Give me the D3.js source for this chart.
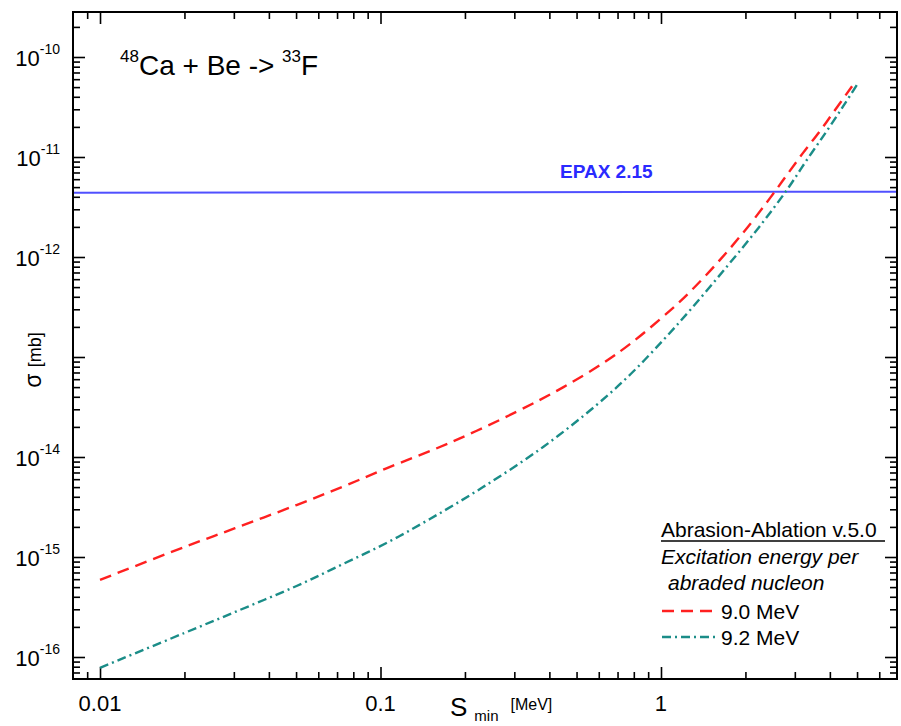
<!DOCTYPE html>
<html>
<head>
<meta charset="utf-8">
<title>Abrasion-Ablation 48Ca + Be -> 33F</title>
<script src="https://d3js.org/d3.v7.min.js"></script>
<style type="text/css">
body { margin: 0; background: #fff; }
text { font-family: "Liberation Sans", Arial, sans-serif; fill: #000; }
</style>
</head>
<body>
<div id="chart"></div>
<script>
// S_min [MeV] and sigma [mb]
var sMin90 = [0.01, 0.02, 0.0303, 0.0502, 0.0734, 0.105, 0.177, 0.306, 0.449, 0.624, 0.781, 1.084, 1.28, 1.62, 2.04, 2.45, 2.81, 3.21, 3.69, 4.10, 4.80];
var sig90  = [5.9e-16, 1.26e-15, 1.94e-15, 3.31e-15, 5.05e-15, 7.7e-15, 1.39e-14, 2.84e-14, 5.0e-14, 8.75e-14, 1.37e-13, 2.96e-13, 4.6e-13, 9.3e-13, 2.0e-12, 3.9e-12, 6.6e-12, 1.10e-11, 1.82e-11, 2.75e-11, 5.1e-11];

var sMin92 = [0.01, 0.02, 0.0303, 0.0502, 0.0734, 0.105, 0.150, 0.232, 0.380, 0.589, 0.78, 1.026, 1.28, 1.69, 2.24, 2.81, 3.31, 3.90, 4.47, 4.99];
var sig92  = [7.8e-17, 1.74e-16, 2.82e-16, 5.13e-16, 8.5e-16, 1.38e-15, 2.40e-15, 5.0e-15, 1.26e-14, 3.31e-14, 6.76e-14, 1.51e-13, 3.02e-13, 7.6e-13, 2.0e-12, 4.68e-12, 9.33e-12, 1.82e-11, 3.24e-11, 5.25e-11];

var sMinEpax = [0.008, 6.9];
var sigEpax  = [4.4e-12, 4.5e-12];

var xMajor = [0.01, 0.1, 1];
var xLabels = ["0.01", "0.1", "1"];
var yExp = [-16, -15, -14, -13, -12, -11, -10];
var yLabelExp = [-16, -15, -14, -12, -11, -10];   // 10^-13 carries the axis title instead

var W = 901, H = 726;
var plotL = 73, plotR = 897, plotT = 12, plotB = 679;

var svg = d3.select("#chart").append("svg")
    .attr("width", W)
    .attr("height", H);

var x = d3.scaleLog()
    .domain([Math.pow(10, -2.0963), Math.pow(10, 0.8414)])
    .range([plotL, plotR]);

var y = d3.scaleLog()
    .domain([Math.pow(10, -16.22), Math.pow(10, -9.55)])
    .range([plotB, plotT]);

// minor tick values
var xMinor = [];
[0.001, 0.01, 0.1, 1].forEach(function(d) {
  for (var k = 2; k <= 9; k++) xMinor.push(d * k);
});
xMinor = xMinor.filter(function(v) { return v >= x.domain()[0] && v <= x.domain()[1]; });

var yMinor = [];
for (var e = -17; e <= -10; e++) {
  for (var k = 2; k <= 9; k++) yMinor.push(k * Math.pow(10, e));
}
yMinor = yMinor.filter(function(v) { return v >= y.domain()[0] && v <= y.domain()[1]; });
var yMajorVals = yExp.map(function(e) { return Math.pow(10, e); });

function tickAxis(axis, vals, len, tr) {
  var g = svg.append("g")
    .attr("transform", tr)
    .call(axis.tickValues(vals).tickSize(-len).tickFormat(""));
  g.select(".domain").remove();
  g.selectAll(".tick line").attr("stroke", "#000").attr("stroke-width", 1.6);
  return g;
}

// inward ticks on all four sides
tickAxis(d3.axisBottom(x), xMajor, 12, "translate(0," + plotB + ")");
tickAxis(d3.axisBottom(x), xMinor, 7, "translate(0," + plotB + ")");
tickAxis(d3.axisTop(x), xMajor, 12, "translate(0," + plotT + ")");
tickAxis(d3.axisTop(x), xMinor, 7, "translate(0," + plotT + ")");
tickAxis(d3.axisLeft(y), yMajorVals, 12, "translate(" + plotL + ",0)");
tickAxis(d3.axisLeft(y), yMinor, 7, "translate(" + plotL + ",0)");
tickAxis(d3.axisRight(y), yMajorVals, 12, "translate(" + plotR + ",0)");
tickAxis(d3.axisRight(y), yMinor, 7, "translate(" + plotR + ",0)");

svg.append("defs").append("clipPath").attr("id", "clip")
  .append("rect")
    .attr("x", plotL).attr("y", plotT)
    .attr("width", plotR - plotL).attr("height", plotB - plotT);

var line = d3.line()
    .x(function(d) { return x(d[0]); })
    .y(function(d) { return y(d[1]); })
    .curve(d3.curveCatmullRom.alpha(0.5));

var plot = svg.append("g").attr("clip-path", "url(#clip)");

plot.append("path")
    .datum(d3.zip(sMinEpax, sigEpax))
    .attr("d", line)
    .attr("fill", "none")
    .attr("stroke", "#5050ff")
    .attr("stroke-width", 2);

plot.append("path")
    .datum(d3.zip(sMin90, sig90))
    .attr("d", line)
    .attr("fill", "none")
    .attr("stroke", "#ff2020")
    .attr("stroke-width", 2.4)
    .attr("stroke-dasharray", "12,7");

plot.append("path")
    .datum(d3.zip(sMin92, sig92))
    .attr("d", line)
    .attr("fill", "none")
    .attr("stroke", "#1b8d88")
    .attr("stroke-width", 2.4)
    .attr("stroke-dasharray", "9,4,2,4");

// frame
svg.append("rect")
    .attr("x", plotL).attr("y", plotT)
    .attr("width", plotR - plotL).attr("height", plotB - plotT)
    .attr("fill", "none")
    .attr("stroke", "#000")
    .attr("stroke-width", 2);

// x tick labels
svg.selectAll(".xlab")
  .data(xMajor)
  .enter().append("text")
    .attr("class", "xlab")
    .attr("x", function(d) { return x(d); })
    .attr("y", 711)
    .attr("text-anchor", "middle")
    .style("font-size", "22px")
    .text(function(d, i) { return xLabels[i]; });

// y tick labels 10^n
var ylab = svg.selectAll(".ylab")
  .data(yLabelExp)
  .enter().append("text")
    .attr("class", "ylab")
    .attr("x", 60)
    .attr("y", function(d) { return y(Math.pow(10, d)) + 9; })
    .attr("text-anchor", "end")
    .style("font-size", "22px");
ylab.append("tspan").text("10");
ylab.append("tspan")
    .attr("dy", -12)
    .style("font-size", "14px")
    .text(function(d) { return d; });

// axis titles
var yt = svg.append("text")
    .attr("transform", "translate(41,360)rotate(-90)")
    .attr("text-anchor", "middle");
yt.append("tspan").style("font-size", "23px").text("σ ");
yt.append("tspan").style("font-size", "18px").text("[mb]");

var xt = svg.append("text")
    .attr("x", 450)
    .attr("y", 716);
xt.append("tspan").style("font-size", "26px").text("S");
xt.append("tspan").attr("dy", 5).attr("dx", 7).style("font-size", "15px").text("min");
xt.append("tspan").attr("dy", -11).attr("dx", 12).style("font-size", "16px").text("[MeV]");

// reaction title
var title = svg.append("text")
    .attr("x", 120)
    .attr("y", 75)
    .style("font-size", "28px");
title.append("tspan").attr("dy", -13).style("font-size", "17px").text("48");
title.append("tspan").attr("dy", 13).text("Ca + Be -> ");
title.append("tspan").attr("dy", -13).style("font-size", "17px").text("33");
title.append("tspan").attr("dy", 13).text("F");

// EPAX label
svg.append("text")
    .attr("x", 560)
    .attr("y", 178)
    .style("font-size", "19px")
    .style("font-weight", "bold")
    .style("fill", "#2a2aff")
    .text("EPAX 2.15");

// legend
var lg = svg.append("g").style("font-size", "21px");
lg.append("text").attr("x", 661).attr("y", 537).text("Abrasion-Ablation v.5.0");
lg.append("line")
    .attr("x1", 661).attr("x2", 885).attr("y1", 541).attr("y2", 541)
    .attr("stroke", "#000").attr("stroke-width", 1.3);
lg.append("text").attr("x", 661).attr("y", 564).style("font-style", "italic").text("Excitation energy per");
lg.append("text").attr("x", 668).attr("y", 590).style("font-style", "italic").text("abraded nucleon");

var legendItems = [
  {label: "9.0 MeV", color: "#ff2020", dash: "12,7"},
  {label: "9.2 MeV", color: "#1b8d88", dash: "9,4,2,4"}
];
legendItems.forEach(function(d, i) {
  var yy = 611 + i * 26;
  lg.append("line")
    .attr("x1", 662).attr("x2", 717).attr("y1", yy).attr("y2", yy)
    .attr("stroke", d.color).attr("stroke-width", 2.4)
    .attr("stroke-dasharray", d.dash);
  lg.append("text").attr("x", 721).attr("y", yy + 8).text(d.label);
});
</script>
</body>
</html>
